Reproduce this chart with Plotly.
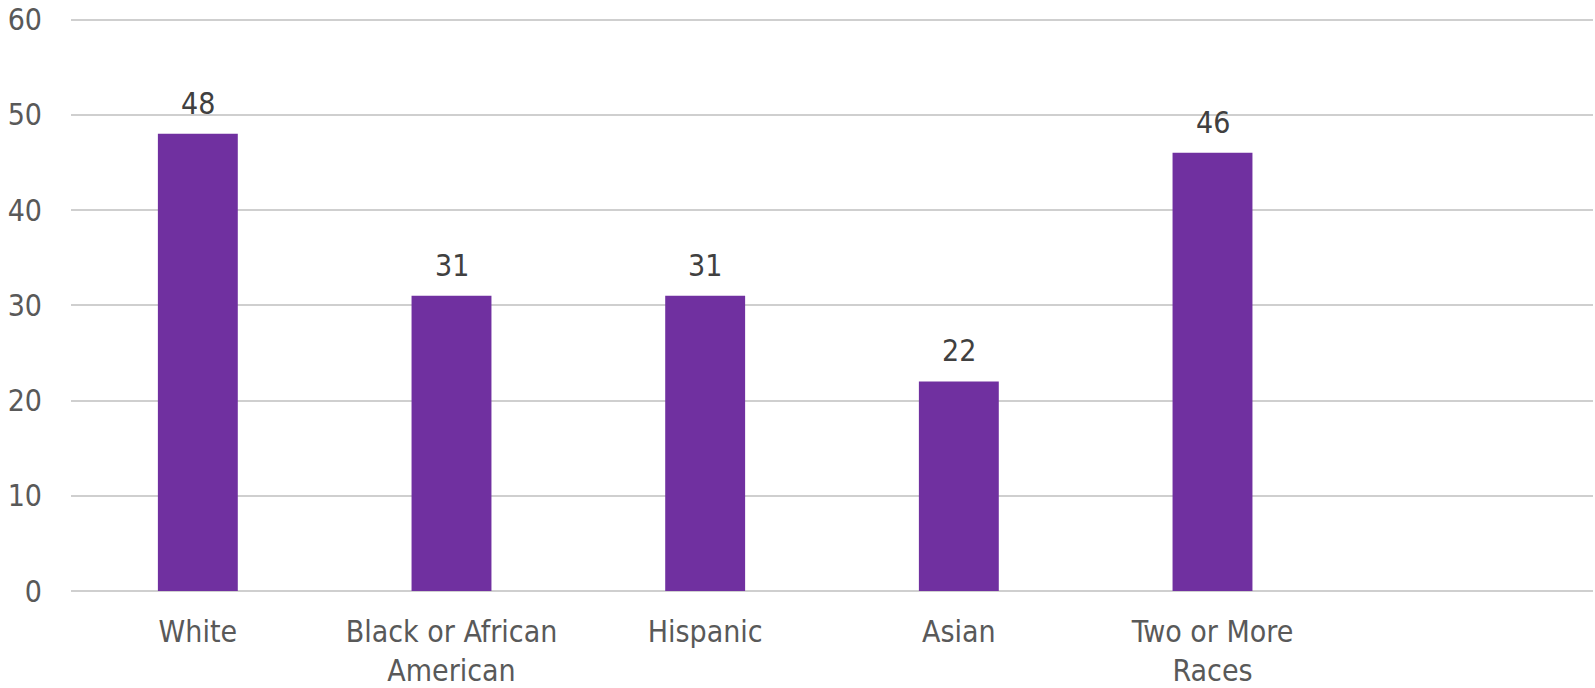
import plotly.graph_objects as go

categories = ["White", "Black or African<br>American", "Hispanic", "Asian", "Two or More<br>Races", " "]
values = [48, 31, 31, 22, 46, None]
labels = ["48", "31", "31", "22", "46", ""]
y_ticks = [0, 10, 20, 30, 40, 50, 60]

font_family = "DejaVu Sans Condensed, DejaVu Sans, Verdana, sans-serif"
text_color = "#595959"
fs = 30

fig = go.Figure()
fig.add_trace(go.Bar(
    x=categories,
    y=values,
    marker=dict(color="#7030A0", line=dict(width=0)),
    width=0.315,
    hoverinfo="x+y",
))

for c, v, t in zip(categories, values, labels):
    if v is None:
        continue
    fig.add_annotation(x=c, y=v, text=t, showarrow=False, yanchor="bottom",
                       yshift=11, font=dict(family=font_family, size=fs, color="#404040"))

fig.update_layout(
    width=1595, height=688,
    margin=dict(l=71, r=2, t=10, b=97),
    plot_bgcolor="white", paper_bgcolor="white",
    showlegend=False,
    font=dict(family=font_family, size=fs, color=text_color),
    xaxis=dict(
        type="category",
        categoryorder="array", categoryarray=categories,
        showgrid=False, showline=False, zeroline=False,
        ticks="outside", ticklen=14, tickcolor="rgba(0,0,0,0)",
        tickfont=dict(family=font_family, size=fs, color=text_color),
        range=[-0.5, 5.5],
        automargin=False,
    ),
    yaxis=dict(
        range=[0, 61],
        tickvals=y_ticks,
        showgrid=True, gridcolor="#cfcfcf", gridwidth=2,
        zeroline=True, zerolinecolor="#cfcfcf", zerolinewidth=2,
        showline=False,
        ticks="outside", ticklen=22, tickcolor="rgba(0,0,0,0)",
        tickfont=dict(family=font_family, size=fs, color=text_color),
        automargin=False,
    ),
)

fig.write_html("out.html")
